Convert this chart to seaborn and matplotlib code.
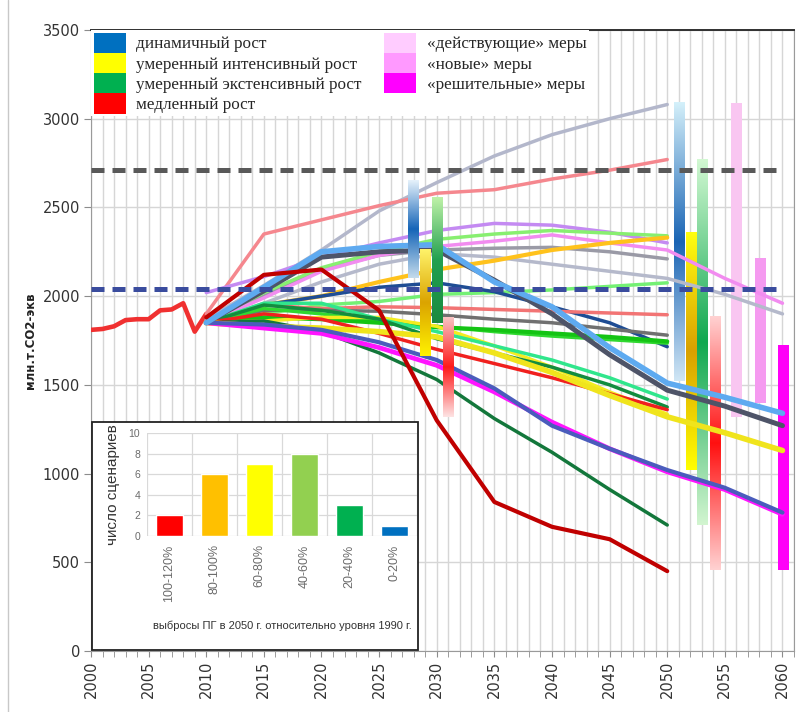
import numpy as np
import matplotlib
matplotlib.use("Agg")
import matplotlib.pyplot as plt
from matplotlib.colors import LinearSegmentedColormap
from matplotlib.patches import Patch, Rectangle
from matplotlib.lines import Line2D
import seaborn as sns

# ---------------- data ----------------
HIST_YEARS = list(range(2000, 2011))
HIST_VALUES = [1810, 1815, 1830, 1865, 1870, 1870, 1920, 1925, 1960, 1800, 1900]

YEARS_2050 = [2010, 2015, 2020, 2025, 2030, 2035, 2040, 2045, 2050]
YEARS_2060 = YEARS_2050 + [2055, 2060]

gray_high = [1870, 2060, 2260, 2480, 2640, 2790, 2910, 3000, 3080]
salmon_high = [1900, 2350, 2430, 2510, 2580, 2600, 2660, 2710, 2770]
lavender = [2020, 2110, 2220, 2300, 2370, 2410, 2400, 2360, 2300]
light_green = [1850, 2020, 2160, 2250, 2320, 2350, 2370, 2355, 2340]
pink_2060 = [1850, 1990, 2140, 2230, 2280, 2310, 2345, 2300, 2260, 2100, 1960]
mid_gray = [1850, 2000, 2150, 2230, 2260, 2270, 2275, 2250, 2210]
orange = [1850, 1950, 2000, 2080, 2150, 2200, 2260, 2300, 2330]
silver_2060 = [1850, 1960, 2080, 2180, 2240, 2220, 2180, 2140, 2100, 2010, 1900]
sky_2060 = [1850, 2050, 2250, 2280, 2290, 2080, 1940, 1710, 1510, 1430, 1340]
slate_gray_2060 = [1850, 2030, 2220, 2250, 2260, 2090, 1900, 1670, 1470, 1380, 1270]
navy = [1850, 1950, 2000, 2050, 2075, 2025, 1940, 1850, 1715]
pale_green = [1850, 1900, 1950, 1970, 2010, 2020, 2035, 2055, 2075]
salmon = [1850, 1950, 1930, 1940, 1935, 1925, 1915, 1905, 1895]
gray = [1850, 1920, 1920, 1915, 1895, 1870, 1850, 1815, 1780]
green = [1850, 1880, 1870, 1850, 1825, 1810, 1790, 1770, 1745]
green_b = [1850, 1930, 1900, 1860, 1830, 1800, 1775, 1755, 1735]
yellow_thin = [1850, 1860, 1880, 1880, 1830, 1720, 1600, 1460, 1335]
emerald = [1850, 1960, 1960, 1870, 1800, 1720, 1640, 1540, 1420]
forest = [1850, 1950, 1920, 1870, 1760, 1680, 1600, 1500, 1375]
red = [1850, 1900, 1870, 1790, 1700, 1620, 1540, 1450, 1360]
yellow_2060 = [1850, 1830, 1820, 1800, 1770, 1680, 1570, 1440, 1320, 1230, 1130]
magenta_2060 = [1850, 1820, 1790, 1710, 1610, 1460, 1290, 1140, 1010, 910, 770]
blue_2060 = [1850, 1840, 1810, 1740, 1640, 1480, 1270, 1140, 1020, 920, 780]
deep_green = [1850, 1860, 1800, 1680, 1530, 1310, 1120, 910, 710]
dark_red = [1880, 2120, 2150, 1920, 1300, 840, 700, 630, 450]

# reference levels (dashed)
LEVEL_UPPER = 2710
LEVEL_LOWER = 2040

# ranges of scenario values (bars)
BARS_2030_X = [2028.0, 2029.0, 2030.05, 2031.05]
BARS_2030_LO = [2100, 1660, 1850, 1320]
BARS_2030_HI = [2650, 2260, 2560, 1880]
BARS_2050_X = [2051.1, 2052.1, 2053.1, 2054.2]
BARS_2050_LO = [1520, 1020, 710, 457]
BARS_2050_HI = [3090, 2360, 2770, 1883]
POLICY_X = [2056.05, 2058.1, 2060.1]
POLICY_LO = [1320, 1400, 457]
POLICY_HI = [3090, 2215, 1725]

GROWTH_LABELS = ["динамичный рост", "умеренный интенсивный рост",
                 "умеренный экстенсивный рост", "медленный рост"]
POLICY_LABELS = ["«действующие» меры", "«новые» меры", "«решительные» меры"]

INSET_CATS = ["100-120%", "80-100%", "60-80%", "40-60%", "20-40%", "0-20%"]
INSET_COUNTS = [2, 6, 7, 8, 3, 1]

# ---------------- styles ----------------
series = [
    (YEARS_2050, gray_high, "#b3b7cb", 2.5),
    (YEARS_2050, salmon_high, "#f5878e", 2.5),
    (YEARS_2060, silver_2060, "#b5b9cb", 2.5),
    (YEARS_2050, mid_gray, "#9a9aa6", 2.5),
    (YEARS_2050, lavender, "#c48af2", 2.5),
    (YEARS_2050, light_green, "#88ef70", 2.5),
    (YEARS_2060, pink_2060, "#f28cf0", 2.5),
    (YEARS_2050, orange, "#ffc21c", 3.0),
    (YEARS_2050, pale_green, "#74f074", 2.5),
    (YEARS_2050, navy, "#1f4d94", 2.5),
    (YEARS_2050, salmon, "#f27474", 2.5),
    (YEARS_2050, gray, "#707070", 2.5),
    (YEARS_2050, green_b, "#30d830", 2.5),
    (YEARS_2050, green, "#14c414", 3.0),
    (YEARS_2050, yellow_thin, "#f4ec20", 2.5),
    (YEARS_2050, emerald, "#30e68c", 2.5),
    (YEARS_2050, forest, "#138c3e", 2.5),
    (YEARS_2050, red, "#f0201e", 2.5),
    (YEARS_2050, deep_green, "#13773b", 2.5),
    (YEARS_2060, yellow_2060, "#f0e41c", 4.0),
    (YEARS_2060, magenta_2060, "#ff14ff", 3.4),
    (YEARS_2060, blue_2060, "#4a5cbc", 3.0),
    (YEARS_2060, slate_gray_2060, "#4e5468", 3.6),
    (YEARS_2060, sky_2060, "#5eaaf0", 4.0),
    (YEARS_2050, dark_red, "#c00000", 3.0),
]

bar_2030_cmaps = [
    ["#e6f2fb", "#1565b8", "#c4dbec"],
    ["#fff36a", "#dba400", "#fff200"],
    ["#bff2a8", "#22a050", "#1a8a40"],
    ["#f8c4c4", "#ff1a1a", "#fde4e4"],
]
bar_2050_cmaps = [
    ["#d4f0fa", "#1a64b4", "#d0e6f5"],
    ["#ffff10", "#d9a000", "#ffff00"],
    ["#d2f8d2", "#10a850", "#d2f5d0"],
    ["#ffd2d2", "#ff1010", "#ffd2d2"],
]
policy_colors = ["#f9c6f1", "#f59af0", "#ff00f8"]
legend_growth_colors = ["#0070c0", "#ffff00", "#00b050", "#ff0000"]
legend_policy_colors = ["#ffccff", "#ff99ff", "#ff00ff"]
inset_colors = ["#ff0000", "#ffc000", "#ffff00", "#92d050", "#00b050", "#0070c0"]

# ---------------- figure ----------------
sns.set_style("white")
W, H = 807, 712
fig = plt.figure(figsize=(W / 100, H / 100), dpi=100)
ax = fig.add_axes([91 / W, 1 - 651 / H, (794 - 91) / W, (651 - 30) / H])
ax.set_zorder(0)

grad = np.linspace(0, 1, 256).reshape(-1, 1)


def gradient_bar(x, lo, hi, colors, z, width=0.95):
    cm = LinearSegmentedColormap.from_list("bar", colors)
    ax.imshow(grad, cmap=cm, extent=[x - width / 2, x + width / 2, lo, hi],
              aspect="auto", origin="upper", interpolation="bilinear", zorder=z)


for x, lo, hi, cols in zip(BARS_2050_X, BARS_2050_LO, BARS_2050_HI, bar_2050_cmaps):
    gradient_bar(x, lo, hi, cols, 1.5)
for x, lo, hi, c in zip(POLICY_X, POLICY_LO, POLICY_HI, policy_colors):
    ax.bar(x, hi - lo, bottom=lo, width=0.95, color=c, zorder=1.5, linewidth=0)

# historical emissions
sns.lineplot(x=HIST_YEARS, y=HIST_VALUES, color="#f03030", lw=3.3, ax=ax, zorder=3)

# scenario trajectories
for yrs, vals, col, lw in series:
    sns.lineplot(x=yrs, y=vals, color=col, lw=lw, ax=ax, zorder=3,
                 solid_capstyle="round", solid_joinstyle="round")

for x, lo, hi, cols in zip(BARS_2030_X, BARS_2030_LO, BARS_2030_HI, bar_2030_cmaps):
    gradient_bar(x, lo, hi, cols, 3.5)

ax.hlines(LEVEL_UPPER, 2000, 2060, colors="#595959", linestyles=(0, (2.6, 1.6)),
          lw=3.6, zorder=4)
ax.hlines(LEVEL_LOWER, 2000, 2060, colors="#3a4c9e", linestyles=(0, (2.6, 1.6)),
          lw=3.6, zorder=4)

ax.set_xlim(2000, 2061)
ax.set_ylim(0, 3500)
ax.set_xticks(range(2000, 2061, 5))
ax.set_xticks(range(2000, 2062), minor=True)
ax.set_yticks(range(0, 3501, 500))
ax.grid(which="both", axis="x", color="#d6d6d6", lw=1)
ax.grid(which="major", axis="y", color="#d6d6d6", lw=1)
ax.set_axisbelow(True)
ax.tick_params(axis="x", which="both", direction="out", length=4, color="#8c8c8c",
               labelrotation=90, labelsize=10.5, labelcolor="#333333", pad=3,
               bottom=True)
ax.tick_params(axis="y", direction="out", length=5, color="#8c8c8c",
               labelsize=10.5, labelcolor="#333333", pad=3, left=True)
for lab in ax.get_xticklabels() + ax.get_yticklabels():
    lab.set_family("DejaVu Sans")
for side in ["left", "bottom", "right"]:
    ax.spines[side].set_color("#9a9a9a")
ax.spines["top"].set_color("#303030")
ax.spines["top"].set_linewidth(1.4)
ax.set_xlabel("")
ax.set_ylabel("млн.т.CO2-экв", fontsize=8.5, fontweight="bold",
              family="DejaVu Sans", labelpad=4, color="#222222")

handles = [Patch(facecolor=c, edgecolor="none") for c in legend_growth_colors] + \
          [Patch(facecolor=c, edgecolor="none") for c in legend_policy_colors]
leg = ax.legend(handles, GROWTH_LABELS + POLICY_LABELS, loc="upper left",
                bbox_to_anchor=(0.0, 1.0), ncol=2, frameon=True, fancybox=False,
                facecolor="white", edgecolor="none", framealpha=1,
                borderaxespad=0, borderpad=0.15, handlelength=1.9,
                handleheight=1.45, handletextpad=0.6, labelspacing=0,
                columnspacing=1.3, prop={"family": "Liberation Serif", "size": 12.3})
leg.set_zorder(10)

# inset: distribution of scenarios
fig.add_artist(Line2D([8 / W, 8 / W], [0, 1], color="#c8c8c8", lw=1,
                      transform=fig.transFigure))
box = Rectangle((92 / W, 1 - 650 / H), 326 / W, 228 / H, transform=fig.transFigure,
                facecolor="white", edgecolor="#222222", lw=1.3, zorder=2)
fig.add_artist(box)
axin = fig.add_axes([147 / W, 1 - 536 / H, 270 / W, 103 / H])
axin.set_zorder(3)
sns.barplot(x=INSET_CATS, y=INSET_COUNTS, hue=INSET_CATS, palette=inset_colors,
            legend=False, width=0.6, saturation=1, ax=axin, zorder=3)
axin.set_xlim(-0.5, 5.5)
axin.set_ylim(0, 10)
axin.set_yticks(range(0, 11, 2))
axin.grid(axis="y", color="#d9d9d9", lw=0.9)
for xv in np.arange(-0.5, 6.0, 1.0):
    axin.axvline(xv, color="#d9d9d9", lw=0.9, zorder=0)
axin.set_axisbelow(True)
for s in axin.spines.values():
    s.set_visible(False)
axin.tick_params(axis="both", length=0, labelcolor="#6b6b6b")
axin.tick_params(axis="x", labelrotation=90, labelsize=9, pad=6)
axin.tick_params(axis="y", labelsize=7.5, pad=5)
for lab in axin.get_xticklabels() + axin.get_yticklabels():
    lab.set_family("Liberation Sans")
axin.set_ylabel("число сценариев", fontsize=11, family="Liberation Sans",
                color="#333333", labelpad=6)
axin.set_xlabel("выбросы ПГ в 2050 г. относительно уровня 1990 г.", fontsize=8,
                family="Liberation Sans", color="#333333", labelpad=14)

fig.savefig("out.png", dpi=100)
